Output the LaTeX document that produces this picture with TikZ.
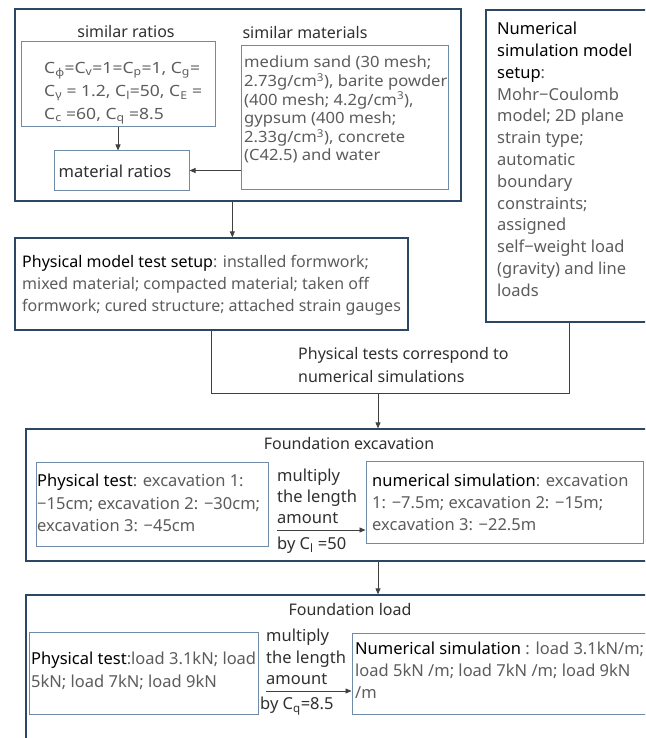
\documentclass[tikz,border=0pt]{standalone}
\usepackage{fontspec}
\setmainfont{Noto Sans}
\newfontfamily\widefont{Noto Sans}[FakeStretch=1.13]
\newfontfamily\midfont{Noto Sans}[FakeStretch=1.07]
\usetikzlibrary{arrows.meta,fit}
\definecolor{obox}{HTML}{2B4766}
\definecolor{ibox}{HTML}{6E8BA8}
\definecolor{txt}{HTML}{5C5C5C}
\definecolor{lbl}{HTML}{303030}
\definecolor{lnk}{HTML}{404040}
\tikzset{
  outerbox/.style={draw=obox, line width=1.3pt, inner sep=0pt, fit={#1}},
  innerbox/.style={draw=ibox, line width=1pt, inner sep=0pt, fit={#1}},
  body/.style={text=txt, inner sep=0pt, anchor=north west, align=left},
  label/.style={text=lbl, inner sep=0pt},
  arr/.style={draw=lnk, line width=0.8pt, -{Triangle[length=6pt,width=5pt]}},
  link/.style={draw=lnk, line width=0.8pt},
}
\newcommand{\fsz}[2]{\fontsize{#1}{#2}\selectfont}
\begin{document}
\begin{tikzpicture}[x=1pt,y=-1pt]
\useasboundingbox (0,0) rectangle (645,738);
\clip (0,0) rectangle (645,738);
% boxes
\node[outerbox={(15,9)(461,201)}] (top) {};
\node[innerbox={(21,42)(215,127)}] (rat) {};
\node[innerbox={(54,151)(189,190)}] (matr) {};
\node[innerbox={(241,46)(448,189)}] (mats) {};
\node[outerbox={(486,10)(652,322)}] (rbox) {};
\node[outerbox={(15,238)(408,330)}] (phys) {};
\node[outerbox={(26,429)(730,561)}] (exc) {};
\node[innerbox={(36,462)(268,546)}] (pexc) {};
\node[innerbox={(366,461)(643,543)}] (nexc) {};
\node[outerbox={(26,595)(730,770)}] (load) {};
\node[innerbox={(29,632)(258,714)}] (pload) {};
\node[innerbox={(352,633)(670,714)}] (nload) {};
% texts
\node[label, font=\fsz{16}{20}] (tsr) at (126,32) {similar ratios};
\node[label, font=\fsz{16}{20}] (tsm) at (305,33) {similar materials};
\node[body, font=\widefont\fsz{15.5}{23}] (trat) at (44,62) {C\textsubscript{φ}=C\textsubscript{v}=1=C\textsubscript{p}=1, C\textsubscript{g}=\\
C\textsubscript{γ} = 1.2, C\textsubscript{l}=50, C\textsubscript{E} =\\
C\textsubscript{c} =60, C\textsubscript{q} =8.5};
\node[label, text=lbl, font=\fsz{16.5}{20}] (tmr) at (115,171) {material ratios};
\node[body, font=\midfont\fsz{15.5}{18.6}] (tmats) at (244,56) {medium sand (30 mesh;\\
2.73g/cm\textsuperscript{3}), barite powder\\
(400 mesh; 4.2g/cm\textsuperscript{3}),\\
gypsum (400 mesh;\\
2.33g/cm\textsuperscript{3}), concrete\\
(C42.5) and water};
\node[body, font=\fsz{16.5}{21.8}] (trb) at (497,22) {\textcolor{black}{Numerical}\\
\textcolor{black}{simulation model}\\
\textcolor{black}{setup}:\\
Mohr−Coulomb\\
model; 2D plane\\
strain type;\\
automatic\\
boundary\\
constraints;\\
assigned\\
self−weight load\\
(gravity) and line\\
loads};
\node[body, font=\fsz{16}{22}] (tphys) at (22,255) {\textcolor{black}{\textbf{Physical model test setup}}: installed formwork;\\
mixed material; compacted material; taken off\\
formwork; cured structure; attached strain gauges};
\node[body, text=lbl, font=\fsz{16}{23}] (tcorr) at (298,347) {Physical tests correspond to\\
numerical simulations};
\node[label, font=\fsz{16}{20}] (texc) at (349,443) {Foundation excavation};
\node[body, font=\fsz{16.5}{22.5}] (tpexc) at (37,474) {\textcolor{black}{Physical test}: excavation 1:\\
−15cm; excavation 2: −30cm;\\
excavation 3: −45cm};
\node[body, text=lbl, font=\fsz{16.5}{21}] (tm1) at (277,469) {multiply\\the length\\amount};
\node[body, text=lbl, font=\fsz{16.5}{21}] (tb1) at (277,537) {by C\textsubscript{l} =50};
\node[body, font=\fsz{16.5}{22}] (tnexc) at (372,474) {\textcolor{black}{numerical simulation}: excavation\\
1: −7.5m; excavation 2: −15m;\\
excavation 3: −22.5m};
\node[label, font=\fsz{16}{20}] (tload) at (350,609) {Foundation load};
\node[body, font=\fsz{16.5}{23}] (tpload) at (31,652) {\textcolor{black}{Physical test}:load 3.1kN; load\\
5kN; load 7kN; load 9kN};
\node[body, text=lbl, font=\fsz{16.5}{21.5}] (tm2) at (266,629) {multiply\\the length\\amount};
\node[body, text=lbl, font=\fsz{16.5}{21}] (tb2) at (260,697) {by C\textsubscript{q}=8.5};
\node[body, font=\fsz{16.5}{22}] (tnload) at (355,642) {\textcolor{black}{Numerical simulation} : load 3.1kN/m;\\
load 5kN /m; load 7kN /m; load 9kN\\
/m};
% connectors
\draw[arr] (rat.south) -- (rat.south |- matr.north);
\draw[arr] (matr.east -| mats.west) -- (matr.east);
\path (top.south west) ++(218,0) coordinate (a1);
\draw[arr] (a1) -- (a1 |- phys.north);
\draw[link] (phys.south) -- ++(0,63) coordinate (c1) -| (rbox.south);
\path (c1 -| exc.north) coordinate (c2);
\draw[arr] (c2) -- (exc.north);
\draw[arr] (exc.south) -- (load.north);
\coordinate (m1) at (277,530);
\draw[arr] (m1) -- (m1 -| nexc.west);
\coordinate (m2) at (266,691);
\draw[arr] (m2) -- (m2 -| nload.west);
\end{tikzpicture}
\end{document}
